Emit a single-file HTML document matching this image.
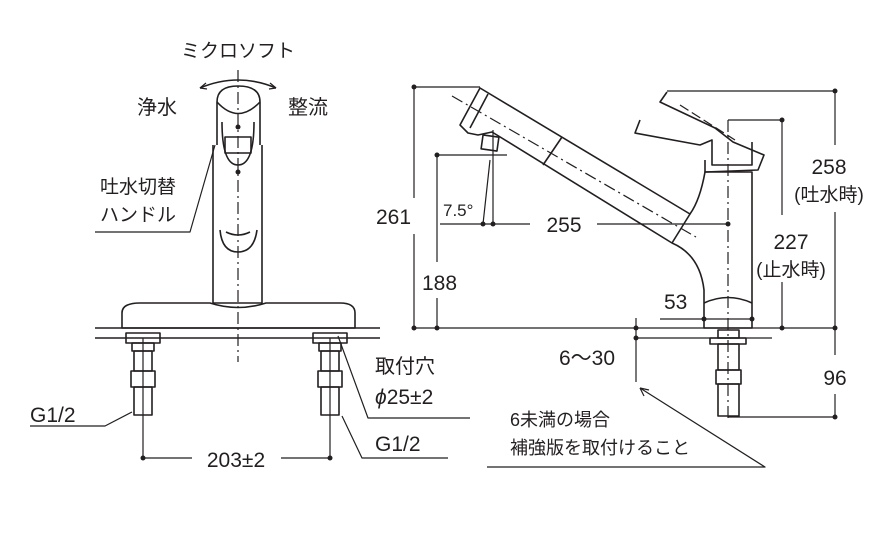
<!DOCTYPE html>
<html><head><meta charset="utf-8"><style>
html,body{margin:0;padding:0;background:#fff}
svg{display:block}
text{font-family:"Liberation Sans","Noto Sans CJK JP",sans-serif;fill:#231f20}
</style></head><body>
<svg width="874" height="534" viewBox="0 0 874 534" xmlns="http://www.w3.org/2000/svg">
<g fill="none" stroke="#231f20" stroke-width="1.6" stroke-linejoin="round">
<!-- LEFT VIEW -->
<line x1="238" y1="70" x2="238" y2="362" stroke-dasharray="12,4,2,4" stroke-width="1.2"/>
<path d="M200 88 Q238 72 276 88"/>
<path d="M200 88 l6 -5 M200 88 l7 1 M276 88 l-6 -5 M276 88 l-7 1" stroke-width="1.2"/>
<path d="M217 102 Q217 86 238 86 Q260 86 260 102 L260 145 M217 102 L217 145"/>
<path d="M217 102 Q238 125 260 102"/>
<path d="M213 145 L213 303 L262 303 L262 145"/>
<path d="M222 122 Q222 165 238 165 Q254 165 254 122"/>
<rect x="225" y="137" width="26" height="16"/>
<path d="M220 230 Q222 252 238 252 Q254 252 257 230"/>
<path d="M226 232 Q238 238 250 232"/>
<path d="M122 313 Q122 303 140 303 L210 303 Q238 312 266 303 L340 303 Q355 303 355 313 L355 328 L122 328 Z"/>
<line x1="95" y1="328" x2="380" y2="328"/>
<line x1="95" y1="338" x2="380" y2="338"/>
<!-- left leg -->
<rect x="126" y="333" width="34" height="10"/>
<rect x="132" y="343" width="22" height="8"/>
<rect x="134" y="351" width="18" height="20"/>
<rect x="131" y="371" width="24" height="16"/>
<rect x="134" y="387" width="18" height="28"/>
<line x1="143" y1="338" x2="143" y2="458" stroke-width="1.2"/>
<!-- right leg -->
<rect x="313" y="333" width="34" height="10"/>
<rect x="319" y="343" width="22" height="8"/>
<rect x="321" y="351" width="18" height="20"/>
<rect x="318" y="371" width="24" height="16"/>
<rect x="321" y="387" width="18" height="28"/>
<line x1="330" y1="338" x2="330" y2="458" stroke-width="1.2"/>
<line x1="143" y1="458" x2="192" y2="458" stroke-width="1.2"/>
<line x1="281" y1="458" x2="330" y2="458" stroke-width="1.2"/>
<!-- leaders -->
<path d="M95 232 L190 232 L215 145" stroke-width="1.2"/>
<path d="M30 426 L105 426 L132 412" stroke-width="1.2"/>
<path d="M338 336 L368 418 L470 418" stroke-width="1.2"/>
<path d="M342 416 L362 458 L448 458" stroke-width="1.2"/>

<!-- RIGHT VIEW -->
<line x1="414" y1="87" x2="414" y2="198" stroke-width="1.2"/>
<line x1="414" y1="234" x2="414" y2="328" stroke-width="1.2"/>
<line x1="414" y1="87" x2="480" y2="87" stroke-width="1.2"/>
<line x1="414" y1="328" x2="835" y2="328" stroke-width="1.2"/>
<line x1="437" y1="155" x2="437" y2="262" stroke-width="1.2"/>
<line x1="437" y1="298" x2="437" y2="328" stroke-width="1.2"/>
<line x1="437" y1="155" x2="507" y2="155" stroke-width="1.2"/>
<line x1="440" y1="224" x2="530" y2="224" stroke-width="1.2"/>
<line x1="597" y1="224" x2="728" y2="224" stroke-width="1.2"/>
<path d="M483 224 L490 160 M493 224 L493 130" stroke-width="1.2"/>
<!-- spout -->
<path d="M480 88 L460 125 L468 133 L478 135 L492 132 L672 243 Q700 255 704 290 L704 328 L752 328 L752 172 L705 172 Q700 200 690 214 Z"/>
<path d="M488 94 L470 128" />
<path d="M562 137 L543 165"/>
<path d="M690 214 L672 243"/>
<rect x="482" y="136" width="16" height="14" transform="rotate(8 490 143)"/>
<line x1="452" y1="96" x2="696" y2="237" stroke-dasharray="12,4,2,4" stroke-width="1.2"/>
<!-- lever -->
<path d="M667 92 L660 102 L715 128 L733 142 L764 155 L758 170 L705 172 L705 160"/>
<path d="M640 120 L635 133 L700 145 L712 140 L712 165 L752 165 L752 142"/>
<line x1="680" y1="105" x2="735" y2="140" stroke-dasharray="10,4" stroke-width="1.2"/>
<path d="M704 303 Q728 292 752 303"/>
<line x1="728" y1="120" x2="728" y2="420" stroke-dasharray="12,4,2,4" stroke-width="1.2"/>
<!-- pipe -->
<rect x="710" y="338" width="36" height="6"/>
<rect x="718" y="330" width="21" height="8"/>
<rect x="718" y="344" width="21" height="26"/>
<rect x="716" y="370" width="25" height="14"/>
<rect x="718" y="384" width="21" height="32"/>
<!-- dims -->
<line x1="667" y1="91" x2="835" y2="91" stroke-width="1.2"/>
<line x1="835" y1="91" x2="835" y2="145" stroke-width="1.2"/>
<line x1="835" y1="212" x2="835" y2="355" stroke-width="1.2"/>
<line x1="835" y1="394" x2="835" y2="417" stroke-width="1.2"/>
<line x1="728" y1="417" x2="835" y2="417" stroke-width="1.2"/>
<line x1="728" y1="120" x2="782" y2="120" stroke-width="1.2"/>
<line x1="782" y1="120" x2="782" y2="215" stroke-width="1.2"/>
<line x1="782" y1="282" x2="782" y2="328" stroke-width="1.2"/>
<line x1="660" y1="319" x2="752" y2="319" stroke-width="1.2"/>
<line x1="636" y1="318" x2="636" y2="382" stroke-width="1.2"/>
<line x1="636" y1="338" x2="772" y2="338" stroke-width="1.2"/>
<path d="M640 388 L765 467 L487 467" stroke-width="1.2"/>
<path d="M640 388 l9 2 M640 388 l4 8" stroke-width="1.2"/>
</g>
<g fill="#231f20">
<circle cx="143" cy="458" r="2.5"/><circle cx="330" cy="458" r="2.5"/>
<circle cx="414" cy="87" r="2.5"/><circle cx="414" cy="328" r="2.5"/>
<circle cx="437" cy="155" r="2.5"/><circle cx="437" cy="328" r="2.5"/>
<circle cx="483" cy="224" r="2.5"/><circle cx="493" cy="224" r="2.5"/><circle cx="728" cy="224" r="2.5"/>
<circle cx="835" cy="91" r="2.5"/><circle cx="835" cy="328" r="2.5"/><circle cx="835" cy="417" r="2.5"/>
<circle cx="782" cy="120" r="2.5"/><circle cx="782" cy="328" r="2.5"/>
<circle cx="704" cy="319" r="2.5"/><circle cx="752" cy="319" r="2.5"/>
<circle cx="636" cy="328" r="2.5"/><circle cx="636" cy="338" r="2.5"/>
<circle cx="238" cy="127" r="2.5"/><circle cx="238" cy="172" r="2.5"/>
</g>
<g font-size="21">
<text x="238" y="57" text-anchor="middle" font-size="19">ミクロソフト</text>
<text x="137" y="114" font-size="20">浄水</text>
<text x="288" y="114" font-size="20">整流</text>
<text x="100" y="193" font-size="19">吐水切替</text>
<text x="100" y="221" font-size="19">ハンドル</text>
<text x="30" y="422">G1/2</text>
<text x="236" y="467" text-anchor="middle">203±2</text>
<text x="375" y="373" font-size="20">取付穴</text>
<text x="375" y="404"><tspan font-style="italic">ϕ</tspan>25±2</text>
<text x="375" y="451">G1/2</text>
<text x="376" y="224">261</text>
<text x="422" y="290">188</text>
<text x="443" y="216" font-size="17">7.5°</text>
<text x="564" y="232" text-anchor="middle">255</text>
<text x="664" y="309">53</text>
<text x="587" y="365" text-anchor="middle">6～30</text>
<text x="829" y="174" text-anchor="middle">258</text>
<text x="829" y="201" text-anchor="middle" font-size="19">(吐水時)</text>
<text x="791" y="249" text-anchor="middle">227</text>
<text x="791" y="276" text-anchor="middle" font-size="19">(止水時)</text>
<text x="835" y="385" text-anchor="middle">96</text>
<text x="510" y="426" font-size="18">6未満の場合</text>
<text x="510" y="454" font-size="18">補強版を取付けること</text>
</g>
</svg>
</body></html>
